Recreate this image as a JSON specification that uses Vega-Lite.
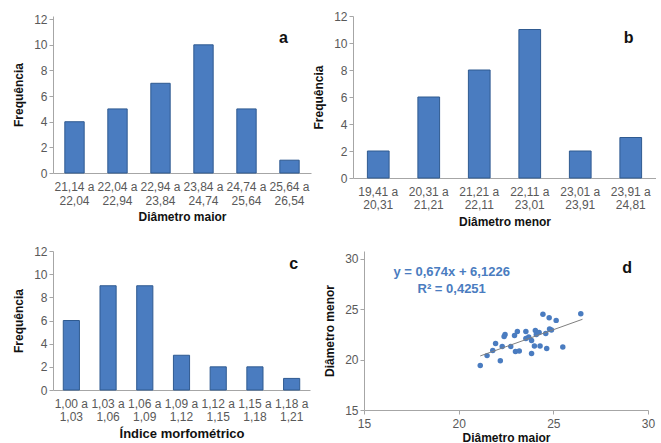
{
  "$schema": "https://vega.github.io/schema/vega-lite/v6.json",
  "padding": {"left": 12, "top": 10, "right": 0, "bottom": 0},
  "background": "white",
  "config": {
    "font": "Liberation Sans",
    "view": {"stroke": null},
    "axis": {
      "labelFont": "Liberation Sans",
      "labelFontSize": 12,
      "labelColor": "#595959",
      "titleFont": "Liberation Sans",
      "titleFontSize": 12,
      "titleFontWeight": "bold",
      "titleColor": "#111111",
      "domainColor": "#a6a6a6",
      "tickColor": "#a6a6a6",
      "grid": false
    }
  },
  "datasets": {
    "a": [
      {"classe": "21,14 a 22,04", "freq": 4},
      {"classe": "22,04 a 22,94", "freq": 5},
      {"classe": "22,94 a 23,84", "freq": 7},
      {"classe": "23,84 a 24,74", "freq": 10},
      {"classe": "24,74 a 25,64", "freq": 5},
      {"classe": "25,64 a 26,54", "freq": 1}
    ],
    "b": [
      {"classe": "19,41 a 20,31", "freq": 2},
      {"classe": "20,31 a 21,21", "freq": 6},
      {"classe": "21,21 a 22,11", "freq": 8},
      {"classe": "22,11 a 23,01", "freq": 11},
      {"classe": "23,01 a 23,91", "freq": 2},
      {"classe": "23,91 a 24,81", "freq": 3}
    ],
    "c": [
      {"classe": "1,00 a 1,03", "freq": 6},
      {"classe": "1,03 a 1,06", "freq": 9},
      {"classe": "1,06 a 1,09", "freq": 9},
      {"classe": "1,09 a 1,12", "freq": 3},
      {"classe": "1,12 a 1,15", "freq": 2},
      {"classe": "1,15 a 1,18", "freq": 2},
      {"classe": "1,18 a 1,21", "freq": 1}
    ],
    "d": [
      {"maior": 21.14, "menor": 19.41},
      {"maior": 21.5, "menor": 20.4},
      {"maior": 21.8, "menor": 20.9},
      {"maior": 21.95, "menor": 21.6},
      {"maior": 22.2, "menor": 19.9},
      {"maior": 22.3, "menor": 21.3},
      {"maior": 22.4, "menor": 22.3},
      {"maior": 22.45, "menor": 22.5},
      {"maior": 22.75, "menor": 21.3},
      {"maior": 22.95, "menor": 22.4},
      {"maior": 23.1, "menor": 22.8},
      {"maior": 23.0, "menor": 20.8},
      {"maior": 23.2, "menor": 20.85},
      {"maior": 23.55, "menor": 22.8},
      {"maior": 23.55, "menor": 22.1},
      {"maior": 23.7, "menor": 22.25},
      {"maior": 23.85, "menor": 21.9},
      {"maior": 23.85, "menor": 20.6},
      {"maior": 24.0, "menor": 21.35},
      {"maior": 24.05, "menor": 22.9},
      {"maior": 24.1, "menor": 22.5},
      {"maior": 24.25, "menor": 22.7},
      {"maior": 24.3, "menor": 21.35},
      {"maior": 24.45, "menor": 24.5},
      {"maior": 24.6, "menor": 22.6},
      {"maior": 24.65, "menor": 21.1},
      {"maior": 24.78, "menor": 24.15},
      {"maior": 24.8, "menor": 23.05},
      {"maior": 25.15, "menor": 23.9},
      {"maior": 25.5, "menor": 21.25},
      {"maior": 26.45, "menor": 24.55},
      {"maior": 24.9, "menor": 22.95}
    ],
    "trend": [
      {"maior": 21.14, "menor": 20.37},
      {"maior": 26.54, "menor": 24.01}
    ]
  },
  "vconcat": [
    {
      "hconcat": [
        {
          "width": 258,
          "height": 157,
          "layer": [
            {
              "data": {"name": "a"},
              "mark": {"type": "bar", "fill": "#4a7cc0", "stroke": "#2f5a90", "strokeWidth": 1},
              "encoding": {
                "x": {"field": "classe", "type": "nominal", "sort": null,
                  "scale": {"paddingInner": 0.55, "paddingOuter": 0.275},
                  "axis": {"title": "Diâmetro maior", "labelAngle": 0, "ticks": false, "labelPadding": 8,
                    "labelExpr": "[split(datum.label,' a ')[0] + ' a', split(datum.label,' a ')[1]]",
                    "labelLineHeight": 14, "titlePadding": 5}},
                "y": {"field": "freq", "type": "quantitative",
                  "scale": {"domain": [0, 12.25], "nice": false},
                  "axis": {"title": "Frequência", "values": [0, 2, 4, 6, 8, 10, 12], "tickSize": 4, "titlePadding": 8}}
              }
            },
            {
              "data": {"values": [{"lbl": "a"}]},
              "mark": {"type": "text", "fontSize": 16, "fontWeight": "bold", "color": "#111111", "dx": -6},
              "encoding": {
                "text": {"field": "lbl"},
                "x": {"datum": "25,64 a 26,54"},
                "y": {"datum": 10.5, "type": "quantitative",
                  "axis": {"title": "Frequência", "values": [0, 2, 4, 6, 8, 10, 12], "tickSize": 4, "titlePadding": 8}}
              }
            }
          ]
        },
        {
          "width": 303,
          "height": 162,
          "layer": [
            {
              "data": {"name": "b"},
              "mark": {"type": "bar", "fill": "#4a7cc0", "stroke": "#2f5a90", "strokeWidth": 1},
              "encoding": {
                "x": {"field": "classe", "type": "nominal", "sort": null,
                  "scale": {"paddingInner": 0.57, "paddingOuter": 0.285},
                  "axis": {"title": "Diâmetro menor", "labelAngle": 0, "ticks": false, "labelPadding": 8,
                    "labelExpr": "[split(datum.label,' a ')[0] + ' a', split(datum.label,' a ')[1]]",
                    "labelLineHeight": 13, "titlePadding": 6}},
                "y": {"field": "freq", "type": "quantitative",
                  "scale": {"domain": [0, 12], "nice": false},
                  "axis": {"title": "Frequência", "values": [0, 2, 4, 6, 8, 10, 12], "tickSize": 4, "titlePadding": 8}}
              }
            },
            {
              "data": {"values": [{"lbl": "b"}]},
              "mark": {"type": "text", "fontSize": 16, "fontWeight": "bold", "color": "#111111", "dx": -2},
              "encoding": {
                "text": {"field": "lbl"},
                "x": {"datum": "23,91 a 24,81"},
                "y": {"datum": 10.4, "type": "quantitative",
                  "axis": {"title": "Frequência", "values": [0, 2, 4, 6, 8, 10, 12], "tickSize": 4, "titlePadding": 8}}
              }
            }
          ]
        }
      ],
      "spacing": 1
    },
    {
      "hconcat": [
        {
          "width": 257,
          "height": 139,
          "layer": [
            {
              "data": {"name": "c"},
              "mark": {"type": "bar", "fill": "#4a7cc0", "stroke": "#2f5a90", "strokeWidth": 1},
              "encoding": {
                "x": {"field": "classe", "type": "nominal", "sort": null,
                  "scale": {"paddingInner": 0.56, "paddingOuter": 0.28},
                  "axis": {"title": "Índice morfométrico", "labelAngle": 0, "ticks": false, "labelPadding": 8,
                    "labelExpr": "[split(datum.label,' a ')[0] + ' a', split(datum.label,' a ')[1]]",
                    "labelLineHeight": 13, "titlePadding": 5, "titleFontSize": 13}},
                "y": {"field": "freq", "type": "quantitative",
                  "scale": {"domain": [0, 12], "nice": false},
                  "axis": {"title": "Frequência", "values": [0, 2, 4, 6, 8, 10, 12], "tickSize": 4, "titlePadding": 8}}
              }
            },
            {
              "data": {"values": [{"lbl": "c"}]},
              "mark": {"type": "text", "fontSize": 16, "fontWeight": "bold", "color": "#111111", "dx": 2},
              "encoding": {
                "text": {"field": "lbl"},
                "x": {"datum": "1,18 a 1,21"},
                "y": {"datum": 10.9, "type": "quantitative",
                  "axis": {"title": "Frequência", "values": [0, 2, 4, 6, 8, 10, 12], "tickSize": 4, "titlePadding": 8}}
              }
            }
          ]
        },
        {
          "width": 284,
          "height": 159,
          "layer": [
            {
              "data": {"name": "d"},
              "mark": {"type": "circle", "size": 30, "color": "#4a7cc0", "opacity": 1},
              "encoding": {
                "x": {"field": "maior", "type": "quantitative",
                  "scale": {"domain": [15, 30], "nice": false},
                  "axis": {"title": "Diâmetro maior", "values": [15, 20, 25, 30], "tickSize": 4, "titlePadding": 3, "labelFlush": false, "labelPadding": 4}},
                "y": {"field": "menor", "type": "quantitative",
                  "scale": {"domain": [15, 30.79], "nice": false},
                  "axis": {"title": "Diâmetro menor", "values": [15, 20, 25, 30], "tickSize": 4, "titlePadding": 8}}
              }
            },
            {
              "data": {"name": "trend"},
              "mark": {"type": "line", "color": "#7f7f7f", "strokeWidth": 1},
              "encoding": {
                "x": {"field": "maior", "type": "quantitative"},
                "y": {"field": "menor", "type": "quantitative"}
              }
            },
            {
              "data": {"values": [
                {"t": "y = 0,674x + 6,1226", "px": 19.63, "py": 28.7},
                {"t": "R² = 0,4251", "px": 19.63, "py": 27.0}
              ]},
              "mark": {"type": "text", "fontSize": 13, "fontWeight": "bold", "color": "#4a7cc0"},
              "encoding": {
                "text": {"field": "t"},
                "x": {"field": "px", "type": "quantitative"},
                "y": {"field": "py", "type": "quantitative"}
              }
            },
            {
              "data": {"values": [{"lbl": "d", "px": 28.9, "py": 29.1}]},
              "mark": {"type": "text", "fontSize": 16, "fontWeight": "bold", "color": "#111111"},
              "encoding": {
                "text": {"field": "lbl"},
                "x": {"field": "px", "type": "quantitative"},
                "y": {"field": "py", "type": "quantitative"}
              }
            }
          ]
        }
      ],
      "spacing": 13
    }
  ],
  "spacing": 18
}
